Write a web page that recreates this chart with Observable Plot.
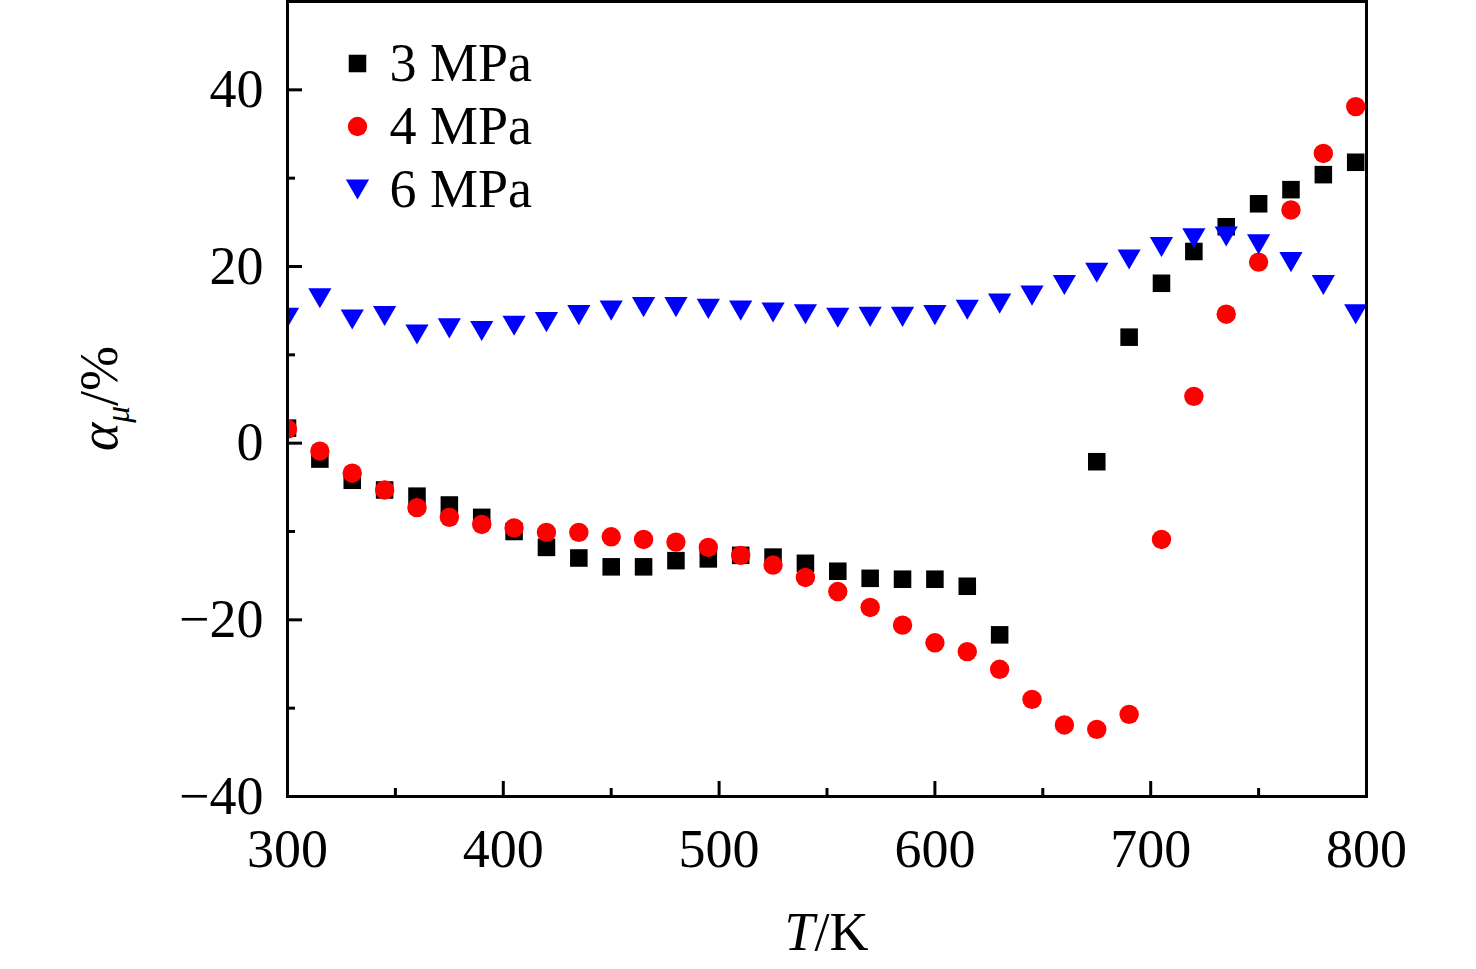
<!DOCTYPE html>
<html>
<head>
<meta charset="utf-8">
<script src="https://cdn.jsdelivr.net/npm/d3@7"></script>
<script src="https://cdn.jsdelivr.net/npm/@observablehq/plot@0.6"></script>
<style>
  html, body { margin: 0; padding: 0; background: #ffffff; }
  #chart svg { display: block; }
</style>
</head>
<body>
<div id="chart"></div>
<script>
// ---- Data ----
const temperatures = [300, 315, 330, 345, 360, 375, 390, 405, 420, 435, 450, 465, 480, 495, 510, 525, 540,
                      555, 570, 585, 600, 615, 630, 645, 660, 675, 690, 705, 720, 735, 750, 765, 780, 795];
const alpha3MPa = [1.7, -1.8, -4.2, -5.3, -6.0, -7.0, -8.4, -10.0, -11.8, -13.0, -14.0, -14.0, -13.3, -13.1, -12.7, -12.9, -13.6,
                   -14.5, -15.3, -15.4, -15.4, -16.2, -21.7, null, null, -2.1, 12.0, 18.1, 21.7, 24.5, 27.1, 28.7, 30.4, 31.8];
const alpha4MPa = [1.6, -0.9, -3.4, -5.3, -7.3, -8.4, -9.2, -9.6, -10.1, -10.1, -10.6, -10.9, -11.2, -11.8, -12.7, -13.8, -15.2,
                   -16.8, -18.6, -20.6, -22.6, -23.6, -25.6, -29.0, -31.9, -32.4, -30.7, -10.9, 5.3, 14.6, 20.5, 26.4, 32.8, 38.1];
const alpha6MPa = [14.2, 16.4, 14.0, 14.4, 12.3, 13.0, 12.7, 13.3, 13.7, 14.5, 15.0, 15.4, 15.4, 15.2, 15.0, 14.8, 14.6,
                   14.2, 14.3, 14.3, 14.5, 15.1, 15.8, 16.7, 17.9, 19.3, 20.8, 22.2, 23.2, 23.4, 22.5, 20.5, 17.9, 14.6];
const seriesNames = ["3 MPa", "4 MPa", "6 MPa"];
const seriesColors = ["#000000", "#ff0000", "#0000ff"];
const xMajorTicks = [300, 400, 500, 600, 700, 800];
const xMinorTicks = [350, 450, 550, 650, 750];
const yMajorTicks = [-40, -20, 0, 20, 40];
const yMinorTicks = [-30, -10, 10, 30];

// ---- Build tables ----
const toRows = (vals) => temperatures.map((t, i) => ({T: t, a: vals[i]})).filter(d => d.a != null);
const rows3 = toRows(alpha3MPa);
const rows4 = toRows(alpha4MPa);
const rows6 = toRows(alpha6MPa);

// downward-pointing triangle symbol
const triangleDown = {
  draw(context, size) {
    const s = Math.sqrt(size) * 1.31;
    const h = s * Math.sqrt(3) / 2;
    context.moveTo(-s / 2, -h / 2);
    context.lineTo(s / 2, -h / 2);
    context.lineTo(0, h / 2);
    context.closePath();
  }
};

const FONT = "'Liberation Serif', 'Times New Roman', Times, serif";
const FS = 54;
const minusFmt = d => d < 0 ? "\u2212" + Math.abs(d) : String(d);

const chart = Plot.plot({
  width: 1476,
  height: 969,
  marginLeft: 287,
  marginRight: 110,
  marginTop: 1,
  marginBottom: 173,
  style: {fontFamily: FONT, fontSize: FS + "px", background: "#ffffff", color: "#000000"},
  x: {domain: [300, 800]},
  y: {domain: [-40, 50]},
  marks: [
    // data
    Plot.dot(rows3, {x: "T", y: "a", symbol: "square", r: 9.9, fill: seriesColors[0], clip: "frame"}),
    Plot.dot(rows4, {x: "T", y: "a", symbol: "circle", r: 9.7, fill: seriesColors[1], clip: "frame"}),
    Plot.dot(rows6, {x: "T", y: "a", symbol: triangleDown, r: 10, fill: seriesColors[2], clip: "frame"}),

    // inward ticks
    Plot.axisX({ticks: xMajorTicks, tickSize: -15, strokeWidth: 3, fill: "none", label: null}),
    Plot.axisX({ticks: xMinorTicks, tickSize: -8, strokeWidth: 3, fill: "none", label: null}),
    Plot.axisY({ticks: yMajorTicks, tickSize: -15, strokeWidth: 3, fill: "none", label: null}),
    Plot.axisY({ticks: yMinorTicks, tickSize: -8, strokeWidth: 3, fill: "none", label: null}),
    // tick labels
    Plot.axisX({ticks: xMajorTicks, tickSize: 0, tickPadding: 32, tickFormat: minusFmt, label: null, fontSize: FS}),
    Plot.axisY({ticks: yMajorTicks, tickSize: 0, tickPadding: 24, tickFormat: minusFmt, label: null, fontSize: FS}),

    // legend
    Plot.dot([seriesNames[0]], {frameAnchor: "top-left", dx: 70, dy: 62, symbol: "square", r: 9.9, fill: seriesColors[0]}),
    Plot.dot([seriesNames[1]], {frameAnchor: "top-left", dx: 70, dy: 125, symbol: "circle", r: 9.7, fill: seriesColors[1]}),
    Plot.dot([seriesNames[2]], {frameAnchor: "top-left", dx: 70, dy: 188, symbol: triangleDown, r: 10, fill: seriesColors[2]}),
    Plot.text([seriesNames[0]], {text: d => d, frameAnchor: "top-left", dx: 102, dy: 62, textAnchor: "start", lineAnchor: "middle", fontSize: FS, fill: "#000"}),
    Plot.text([seriesNames[1]], {text: d => d, frameAnchor: "top-left", dx: 102, dy: 125, textAnchor: "start", lineAnchor: "middle", fontSize: FS, fill: "#000"}),
    Plot.text([seriesNames[2]], {text: d => d, frameAnchor: "top-left", dx: 102, dy: 188, textAnchor: "start", lineAnchor: "middle", fontSize: FS, fill: "#000"}),

    Plot.frame({stroke: "#000", strokeWidth: 3})
  ]
});

document.getElementById("chart").appendChild(chart);

// ---- Axis titles with italic / subscript parts ----
const svg = d3.select(chart);
const xr = chart.scale("x").range;
const yr = chart.scale("y").range;
const xMid = (xr[0] + xr[1]) / 2;
const yMid = (yr[0] + yr[1]) / 2;

const xt = svg.append("text")
  .attr("x", xMid).attr("y", 950)
  .attr("text-anchor", "middle")
  .attr("font-family", FONT).attr("font-size", FS).attr("fill", "#000");
xt.append("tspan").attr("font-style", "italic").text("T");
xt.append("tspan").text("/K");

const yt = svg.append("text")
  .attr("transform", `translate(117,${yMid}) rotate(-90)`)
  .attr("text-anchor", "middle")
  .attr("font-family", FONT).attr("font-size", FS).attr("fill", "#000");
yt.append("tspan").attr("font-style", "italic").text("\u03B1");
yt.append("tspan").attr("font-style", "italic").attr("font-size", FS * 0.62).attr("dy", FS * 0.22).text("\u03BC");
yt.append("tspan").attr("dy", -FS * 0.22).text("/%");
</script>
</body>
</html>
